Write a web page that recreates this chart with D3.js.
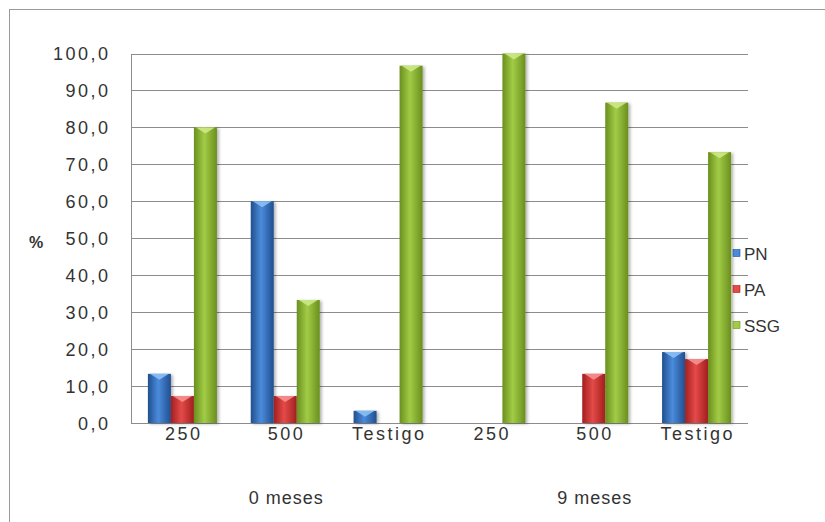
<!DOCTYPE html>
<html>
<head>
<meta charset="utf-8">
<script src="https://cdn.jsdelivr.net/npm/d3@7"></script>
<style>
  html, body { margin: 0; padding: 0; background: #fff; }
  svg { display: block; font-family: "Liberation Sans", Arial, sans-serif; }
</style>
</head>
<body>
<svg id="chart" width="825" height="522"></svg>
<script>
// Dose labels under each bar group, and the period each group belongs to
const categories = ["250", "500", "Testigo", "250", "500", "Testigo"];
const periods = ["0 meses", "9 meses"];
const periodOf = [0, 0, 0, 1, 1, 1];

const seriesNames = ["PN", "PA", "SSG"];
const pnValues  = [13.3, 60.0, 3.3, 0.0, 0.0, 19.2];
const paValues  = [7.3, 7.3, 0.0, 0.0, 13.3, 17.3];
const ssgValues = [80.0, 33.3, 96.7, 100.0, 86.7, 73.3];
const yTicks = [0, 10, 20, 30, 40, 50, 60, 70, 80, 90, 100];

const seriesValues = [pnValues, paValues, ssgValues];
const palette = {
  PN:  { edge: "#214f8e", mid: "#4a8bdc", cap: "#8cc0f4" },
  PA:  { edge: "#a21f1f", mid: "#e44a48", cap: "#f59090" },
  SSG: { edge: "#6a8f1e", mid: "#a2cc46", cap: "#cde886" }
};

const svg = d3.select("#chart");
const plotLeft = 131, plotRight = 748, plotTop = 53.5, plotBottom = 423;

// Outer chart frame (only top and left edges fall inside the view)
svg.append("rect")
  .attr("x", 9.5).attr("y", 9.5)
  .attr("width", 900).attr("height", 700)
  .attr("fill", "none").attr("stroke", "#9a9a9a");

const defs = svg.append("defs");
seriesNames.forEach(s => {
  const g = defs.append("linearGradient").attr("id", "grad-" + s)
    .attr("x1", "0%").attr("x2", "100%").attr("y1", "0%").attr("y2", "0%");
  g.append("stop").attr("offset", "0%").attr("stop-color", palette[s].edge);
  g.append("stop").attr("offset", "45%").attr("stop-color", palette[s].mid);
  g.append("stop").attr("offset", "100%").attr("stop-color", palette[s].edge);
});
const shadow = defs.append("filter").attr("id", "barShadow")
  .attr("x", "-30%").attr("y", "-10%").attr("width", "160%").attr("height", "130%");
shadow.append("feDropShadow").attr("dx", 2).attr("dy", 1).attr("stdDeviation", 1.5)
  .attr("flood-color", "#000").attr("flood-opacity", 0.3);

const y = d3.scaleLinear().domain([0, 100]).range([plotBottom, plotTop]);
const x0 = d3.scaleBand().domain(d3.range(categories.length)).range([plotLeft, plotRight]).paddingInner(0);
const x1 = d3.scaleBand().domain(seriesNames).range([0, x0.bandwidth()]).paddingInner(0).paddingOuter(0.735);

// Horizontal gridlines
svg.append("g").selectAll("line").data(yTicks.filter(t => t > 0)).join("line")
  .attr("x1", plotLeft).attr("x2", plotRight)
  .attr("y1", d => Math.round(y(d)) + 0.5).attr("y2", d => Math.round(y(d)) + 0.5)
  .attr("stroke", "#8c8c8c").attr("stroke-width", 1);

// Y axis line and baseline
svg.append("line").attr("x1", plotLeft + 0.5).attr("x2", plotLeft + 0.5)
  .attr("y1", Math.round(y(100)) + 0.5).attr("y2", Math.round(y(0)) + 0.5)
  .attr("stroke", "#8c8c8c");
svg.append("line").attr("x1", plotLeft).attr("x2", plotRight)
  .attr("y1", Math.round(y(0)) + 0.5).attr("y2", Math.round(y(0)) + 0.5)
  .attr("stroke", "#8c8c8c");

// Y tick labels
svg.append("g").selectAll("text").data(yTicks).join("text")
  .attr("x", 110.5).attr("y", d => y(d) + 6.5)
  .attr("text-anchor", "end")
  .attr("font-size", 18).attr("letter-spacing", "2.5px")
  .attr("fill", "#333")
  .text(d => d.toFixed(1).replace(".", ","));

svg.append("text").attr("x", 29).attr("y", 248)
  .attr("font-size", 16).attr("font-weight", "bold").attr("fill", "#333")
  .text("%");

// Bars
const bars = [];
categories.forEach((c, i) => {
  seriesNames.forEach((s, k) => {
    bars.push({ i, s, v: seriesValues[k][i] });
  });
});
const barG = svg.append("g");
bars.filter(d => d.v > 0).forEach(d => {
  const bx = x0(d.i) + x1(d.s);
  const bw = x1.bandwidth();
  const by = y(d.v);
  const bh = y(0) - by;
  const g = barG.append("g");
  g.append("rect")
    .attr("x", bx).attr("y", by).attr("width", bw).attr("height", bh)
    .attr("fill", "url(#grad-" + d.s + ")")
    .attr("filter", "url(#barShadow)");
  const cap = Math.min(6, bh);
  g.append("path")
    .attr("d", `M${bx + 2},${by} L${bx + bw - 2},${by} L${bx + bw / 2},${by + cap} Z`)
    .attr("fill", palette[d.s].cap).attr("opacity", 0.9);
});

// Category labels
svg.append("g").selectAll("text").data(categories).join("text")
  .attr("x", (d, i) => x0(i) + x0.bandwidth() / 2 + 1.25)
  .attr("y", 440)
  .attr("text-anchor", "middle")
  .attr("font-size", 18).attr("letter-spacing", "2.5px")
  .attr("fill", "#333")
  .text(d => d);

// Period labels centred under their three categories
svg.append("g").selectAll("text").data(periods).join("text")
  .attr("x", (d, p) => {
    const idx = d3.range(categories.length).filter(i => periodOf[i] === p);
    return (x0(idx[0]) + x0(idx[idx.length - 1]) + x0.bandwidth()) / 2 + 1;
  })
  .attr("y", 504)
  .attr("text-anchor", "middle")
  .attr("font-size", 18).attr("letter-spacing", "1px")
  .attr("fill", "#333")
  .text(d => d);

// Legend
const legend = svg.append("g").selectAll("g").data(seriesNames).join("g")
  .attr("transform", (d, k) => `translate(733, ${253 + k * 36})`);
legend.append("rect")
  .attr("x", 0).attr("y", -3.5).attr("width", 7).attr("height", 7)
  .attr("fill", d => palette[d].mid).attr("stroke", d => palette[d].edge).attr("stroke-width", 0.6);
legend.append("text")
  .attr("x", 11).attr("y", 6.5)
  .attr("font-size", 17).attr("fill", "#333")
  .text(d => d);
</script>
</body>
</html>
